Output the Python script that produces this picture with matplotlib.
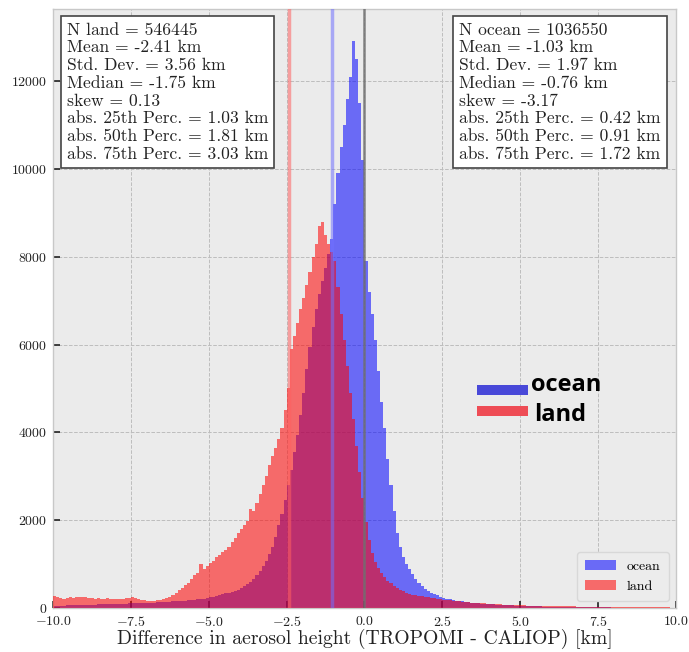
import numpy as np
import matplotlib
matplotlib.use("Agg")
import matplotlib.pyplot as plt
from matplotlib.patches import Rectangle, Patch

plt.rcParams["font.family"] = "cmr10"
plt.rcParams["mathtext.fontset"] = "cm"
plt.rcParams["axes.formatter.use_mathtext"] = True

# Histogram bin edges (0.1 km bins from -10 to 10 km)
bin_edges = np.round(np.linspace(-10.0, 10.0, 201), 2)

# Counts per bin: ocean
ocean_counts = [
    50, 50, 55, 55, 60, 60, 60, 65, 65, 70,
    70, 70, 75, 75, 80, 80, 85, 85, 90, 90,
    95, 95, 100, 100, 105, 110, 110, 115, 115, 120,
    120, 125, 125, 130, 135, 140, 140, 145, 150, 155,
    160, 165, 170, 175, 180, 190, 195, 205, 215, 225,
    240, 255, 270, 290, 310, 330, 350, 370, 390, 420,
    450, 490, 540, 600, 670, 750, 850, 960, 1080, 1220,
    1400, 1620, 1880, 2150, 2450, 2800, 3150, 3550, 3950, 4400,
    4900, 5450, 5950, 6400, 6800, 7150, 7450, 7750, 8050, 8400,
    9200, 9900, 10500, 11000, 11600, 12100, 12900, 12500, 11500, 10200,
    7900, 7200, 6700, 6100, 5400, 4700, 4100, 3400, 2800, 2200,
    1700, 1400, 1150, 1000, 880, 780, 650, 560, 490, 430,
    390, 350, 320, 290, 260, 235, 215, 200, 185, 170,
    160, 150, 140, 130, 122, 115, 108, 102, 96, 90,
    85, 80, 76, 72, 68, 64, 60, 57, 54, 51,
    48, 45, 42, 40, 38, 36, 34, 32, 30, 28,
    26, 25, 24, 23, 22, 21, 20, 19, 18, 17,
    16, 15, 15, 14, 14, 13, 13, 12, 12, 11,
    11, 10, 10, 10, 9, 9, 9, 8, 8, 8,
    8, 7, 7, 7, 6, 6, 6, 6, 5, 5,
]

# Counts per bin: land
land_counts = [
    270, 250, 230, 210, 220, 240, 230, 250, 260, 240,
    250, 230, 220, 210, 220, 200, 210, 220, 210, 200,
    210, 200, 210, 220, 230, 240, 220, 200, 190, 180,
    170, 160, 170, 180, 190, 210, 230, 260, 300, 350,
    400, 450, 520, 580, 650, 750, 800, 1000, 880, 950,
    1020, 1080, 1150, 1200, 1280, 1330, 1400, 1500, 1600, 1700,
    1800, 1880, 1980, 2250, 2200, 2400, 2600, 2800, 3000, 3250,
    3450, 3650, 3850, 4100, 4500, 5000, 5900, 6200, 6500, 6800,
    7050, 7350, 7650, 8000, 8300, 8700, 8800, 8500, 8300, 8100,
    7900, 7300, 6700, 6100, 5500, 4900, 4300, 3700, 3100, 2500,
    1950, 1550, 1250, 1050, 900, 800, 700, 620, 560, 500,
    450, 410, 380, 350, 325, 305, 290, 275, 262, 250,
    240, 230, 220, 210, 200, 190, 182, 175, 168, 160,
    152, 145, 138, 131, 125, 119, 113, 108, 103, 98,
    94, 90, 86, 82, 78, 75, 72, 69, 66, 63,
    60, 58, 56, 54, 52, 50, 48, 46, 44, 42,
    41, 40, 39, 38, 37, 36, 35, 34, 33, 32,
    31, 30, 29, 28, 27, 26, 25, 24, 23, 22,
    21, 20, 19, 18, 18, 17, 17, 16, 16, 15,
    15, 14, 14, 13, 13, 12, 12, 12, 11, 11,
]

# Summary statistics
land_mean = -2.41
ocean_mean = -1.03

land_stats = [
    "N land = 546445",
    "Mean = -2.41 km",
    "Std. Dev. = 3.56 km",
    "Median = -1.75 km",
    "skew = 0.13",
    "abs. 25th Perc. = 1.03 km",
    "abs. 50th Perc. = 1.81 km",
    "abs. 75th Perc. = 3.03 km",
]
ocean_stats = [
    "N ocean = 1036550",
    "Mean = -1.03 km",
    "Std. Dev. = 1.97 km",
    "Median = -0.76 km",
    "skew = -3.17",
    "abs. 25th Perc. = 0.42 km",
    "abs. 50th Perc. = 0.91 km",
    "abs. 75th Perc. = 1.72 km",
]

x_ticks = [-10.0, -7.5, -5.0, -2.5, 0.0, 2.5, 5.0, 7.5, 10.0]
y_ticks = [0, 2000, 4000, 6000, 8000, 10000, 12000]

fig = plt.figure(figsize=(6.89, 6.52), dpi=100)
ax = fig.add_axes([0.077, 0.0675, 0.904, 0.9187])
ax.set_facecolor("#ebebeb")

ax.stairs(ocean_counts, bin_edges, fill=True, facecolor="blue", alpha=0.55,
          linewidth=0, label="ocean", zorder=2)
ax.stairs(land_counts, bin_edges, fill=True, facecolor="red", alpha=0.55,
          linewidth=0, label="land", zorder=3)

ax.axvline(land_mean, color="#ff6060", alpha=0.55, lw=2.5, zorder=4)
ax.axvline(ocean_mean, color="#7070ff", alpha=0.55, lw=2.5, zorder=4)
ax.axvline(0.0, color="#707070", alpha=0.85, lw=1.8, zorder=4)

ax.set_xlim(-10, 10)
ax.set_ylim(0, 13640)
ax.set_xticks(x_ticks)
ax.set_yticks(y_ticks)
ax.tick_params(axis="both", direction="in", length=5, width=1.2,
               color="#222222", labelsize=10, labelcolor="#222222")
ax.tick_params(axis="x", pad=5)
ax.tick_params(axis="y", pad=4)
ax.grid(True, color="#bdbdbd", linestyle="--", linewidth=0.7, zorder=0)
ax.set_axisbelow(True)
for s in ax.spines.values():
    s.set_color("#c8c8c8")
    s.set_linewidth(1.0)

ax.set_xlabel("Difference in aerosol height (TROPOMI - CALIOP) [km]",
              fontsize=14.2, color="#222222", labelpad=0)

box = dict(boxstyle="square,pad=0.35", facecolor="white",
           edgecolor="#444444", linewidth=1.2)
ax.text(0.022, 0.978, "\n".join(land_stats), transform=ax.transAxes,
        ha="left", va="top", fontsize=12.6, linespacing=1.2,
        multialignment="left", color="#222222", bbox=box, zorder=6)
ax.text(0.976, 0.978, "\n".join(ocean_stats), transform=ax.transAxes,
        ha="right", va="top", fontsize=12.6, linespacing=1.2,
        multialignment="left", color="#222222", bbox=box, zorder=6)

leg = ax.legend(handles=[Patch(facecolor="blue", alpha=0.55, label="ocean"),
                         Patch(facecolor="red", alpha=0.55, label="land")],
                loc="lower right", fontsize=10, frameon=True,
                facecolor="#ececec", edgecolor="#d8d8d8", framealpha=1.0,
                handlelength=2.2, borderpad=0.6)
leg.set_zorder(6)

# Large key in the middle right of the plot
ax.add_patch(Rectangle((0.680, 0.355), 0.082, 0.017, transform=ax.transAxes,
                       facecolor="#4848d8", edgecolor="none", zorder=7))
ax.add_patch(Rectangle((0.680, 0.320), 0.082, 0.017, transform=ax.transAxes,
                       facecolor="#ee4c55", edgecolor="none", zorder=7))
ax.text(0.767, 0.372, "ocean", transform=ax.transAxes, ha="left",
        va="center", fontsize=17, fontweight="bold", family="Open Sans",
        color="black", zorder=7)
ax.text(0.772, 0.322, "land", transform=ax.transAxes, ha="left",
        va="center", fontsize=17, fontweight="bold", family="Open Sans",
        color="black", zorder=7)

fig.savefig("out.png", dpi=100)
